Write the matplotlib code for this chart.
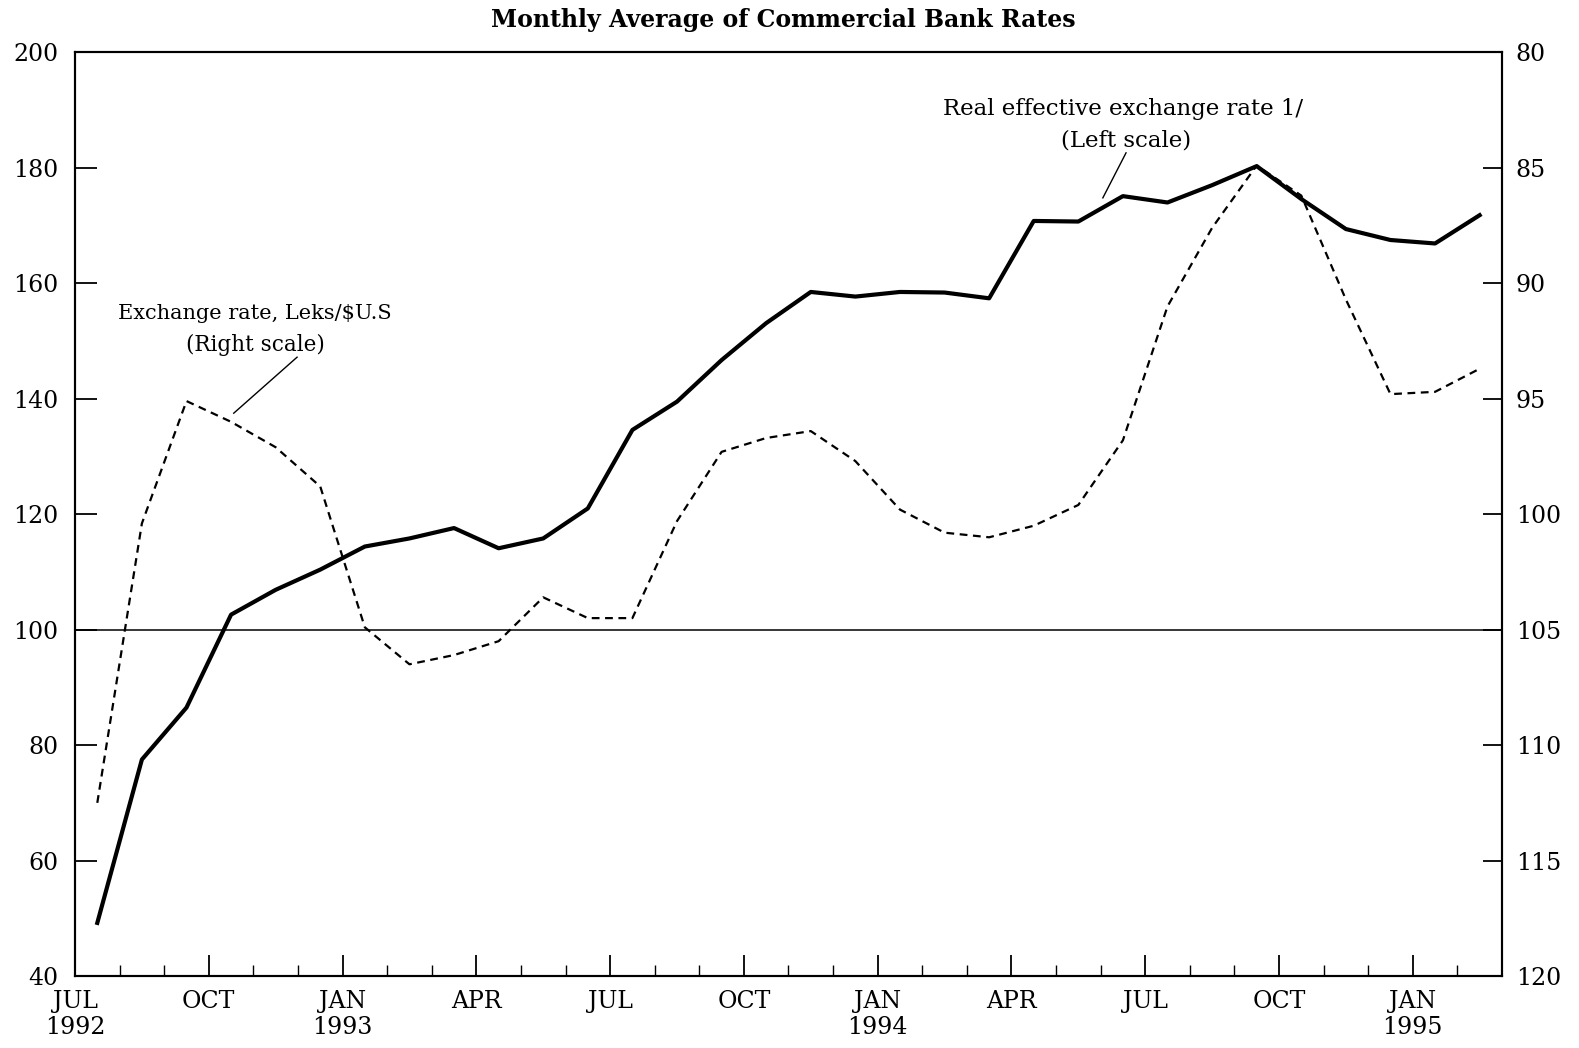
"""Albania: real effective exchange rate and Leks/$ exchange rate, 1992-95."""

import matplotlib

matplotlib.use("Agg")
import matplotlib.pyplot as plt
import numpy as np

# month index 0 = JUL 1992 ... 31 = FEB 1995
months = np.arange(32)

# Real effective exchange rate 1/ (left scale)
reer = [
    49.2, 77.5, 86.5, 102.6, 106.9, 110.4, 114.4, 115.8, 117.6, 114.1, 115.8,
    121.0, 134.6, 139.5, 146.7, 153.1, 158.5, 157.7, 158.5, 158.4, 157.4,
    170.8, 170.7, 175.1, 174.0, 177.0, 180.3, 174.6, 169.4, 167.5, 166.9, 171.8,
]

# Exchange rate, Leks/$U.S (right scale, inverted)
leks_usd = [
    112.5, 100.4, 95.1, 96.0, 97.1, 98.8, 104.9, 106.5, 106.1, 105.5, 103.6,
    104.5, 104.5, 100.3, 97.3, 96.7, 96.4, 97.7, 99.8, 100.8, 101.0,
    100.5, 99.6, 96.8, 91.0, 87.6, 84.9, 86.2, 90.7, 94.8, 94.7, 93.7,
]

tick_months = [0, 3, 6, 9, 12, 15, 18, 21, 24, 27, 30]
tick_labels = [
    "JUL\n1992", "OCT", "JAN\n1993", "APR", "JUL", "OCT",
    "JAN\n1994", "APR", "JUL", "OCT", "JAN\n1995",
]
left_ticks = [40, 60, 80, 100, 120, 140, 160, 180, 200]
right_ticks = [80, 85, 90, 95, 100, 105, 110, 115, 120]

plt.rcParams["font.family"] = "DejaVu Serif"

fig = plt.figure(figsize=(15.79, 10.48), dpi=100)
ax = fig.add_axes([0.0475, 0.0687, 0.9037, 0.8813])
ax2 = ax.twinx()

x = months + 0.5
ax.plot(x, reer, color="black", linewidth=3.0, solid_joinstyle="round")
ax2.plot(x, leks_usd, color="black", linewidth=1.6, linestyle=(0, (3.5, 2.5)))
ax.axhline(100, color="black", linewidth=1.1)

ax.set_xlim(0, 32)
ax.set_ylim(40, 200)
ax2.set_ylim(120, 80)

ax.set_yticks(left_ticks)
ax2.set_yticks(right_ticks)
ax.set_xticks(tick_months)
ax.set_xticklabels(tick_labels)
ax.set_xticks(months, minor=True)

ax.tick_params(axis="x", which="major", direction="in", length=15, width=1.3,
               labelsize=17, pad=10)
ax.tick_params(axis="x", which="minor", direction="in", length=8, width=1.0)
ax.tick_params(axis="y", direction="in", length=16, width=1.3, labelsize=17, pad=12)
ax2.tick_params(axis="y", direction="in", length=14, width=1.3, labelsize=17, pad=10)

for a in (ax, ax2):
    for s in a.spines.values():
        s.set_linewidth(1.5)

ax.text(4.04, 154.7, "Exchange rate, Leks/$U.S", ha="center", va="center", fontsize=15)
ax.text(4.04, 149.3, "(Right scale)", ha="center", va="center", fontsize=15.5)
ax.plot([4.98, 3.56], [147.2, 137.5], color="black", linewidth=1.0)

ax.text(23.5, 190.2, "Real effective exchange rate 1/", ha="center", va="center", fontsize=16.5)
ax.text(23.57, 184.8, "(Left scale)", ha="center", va="center", fontsize=16.5)
ax.plot([23.57, 23.05], [182.6, 174.8], color="black", linewidth=1.0)

fig.text(0.496, 0.981, "Monthly Average of Commercial Bank Rates", ha="center",
         va="center", fontsize=17, fontweight="bold")

plt.savefig("out.png", dpi=100)
plt.close()
